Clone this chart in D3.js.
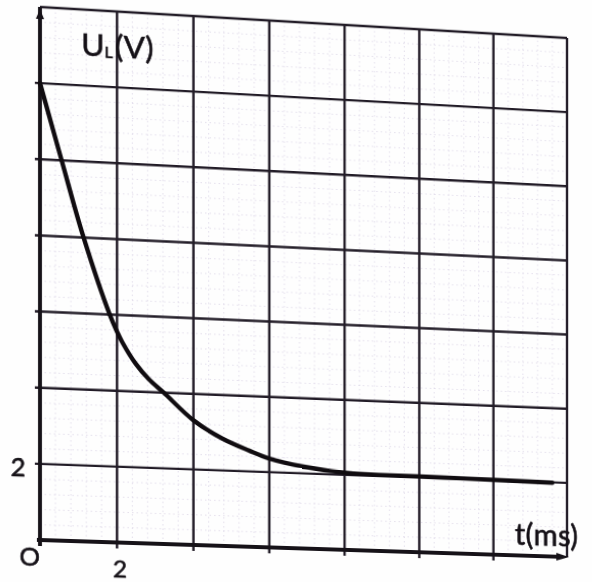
<!DOCTYPE html>
<html>
<head>
<meta charset="utf-8">
<script src="https://cdn.jsdelivr.net/npm/d3@7"></script>
<style>
html,body{margin:0;padding:0;background:#fff;overflow:hidden;width:592px;height:582px}
#wrap{position:absolute;left:0;top:0;width:592px;height:582px;transform-origin:0 0}
</style>
</head>
<body>
<div id="wrap"></div>
<script>
// ---- data ----
const tValues = [0, 0.56, 1.13, 1.81, 2.0, 2.13, 2.49, 2.83, 3.22, 4.0, 4.75, 5.47, 6.0, 6.9, 8.0, 10.0, 12.0, 13.6];
const uValues = [12, 10, 8, 6, 5.56, 5.3, 4.73, 4.34, 4.0, 3.3, 2.85, 2.55, 2.36, 2.18, 2.06, 2.03, 2.01, 1.99];
const xMajorTicks = [0, 2, 4, 6, 8, 10, 12, 14];
const yMajorTicks = [0, 2, 4, 6, 8, 10, 12, 14];
const xTickLabels = [{v: 2, text: "2"}];
const yTickLabels = [{v: 2, text: "2"}];
const originLabel = "O";
const xTitle = "t(ms)";
const yTitleMain = "U", yTitleSub = "L", yTitleUnit = "(V)";

// ---- layout ----
const Wd = 592, Ht = 582;
const L = 40, T = 7, W = 527, H = 533;
const quad = [[40, 7], [567, 38], [567, 557], [40, 540]]; // photo perspective

const x = d3.scaleLinear().domain([0, 14]).range([L, L + W]);
const y = d3.scaleLinear().domain([0, 14]).range([T + H, T]);

const svg = d3.select("#wrap").append("svg")
  .attr("width", Wd).attr("height", Ht)
  .style("overflow", "visible");

svg.append("rect").attr("x", -50).attr("y", -50).attr("width", Wd + 100).attr("height", Ht + 100).attr("fill", "#fefefe");

// minor grid
const minor = d3.range(0, 14.001, 0.4).filter(v => Math.abs(v / 2 - Math.round(v / 2)) > 1e-6);
const gMinor = svg.append("g").attr("stroke", "#cdc4dc").attr("stroke-width", 0.9)
  .attr("stroke-dasharray", "1.5,3").attr("opacity", 0.6);
gMinor.selectAll("line.mx").data(minor).join("line")
  .attr("x1", d => x(d)).attr("x2", d => x(d)).attr("y1", y(14)).attr("y2", y(0));
gMinor.selectAll("line.my").data(minor).join("line")
  .attr("y1", d => y(d)).attr("y2", d => y(d)).attr("x1", x(0)).attr("x2", x(14));

// major grid
const gMajor = svg.append("g").attr("stroke", "#221c27").attr("stroke-width", 2.4);
gMajor.selectAll("line.vx").data(xMajorTicks.filter(d => d > 0)).join("line")
  .attr("x1", d => x(d)).attr("x2", d => x(d))
  .attr("y1", y(14)).attr("y2", d => d < 14 ? y(0) + 6 : y(0));
gMajor.selectAll("line.hy").data(yMajorTicks.filter(d => d > 0)).join("line")
  .attr("y1", d => y(d)).attr("y2", d => y(d))
  .attr("x1", d => d < 14 ? x(0) - 5 : x(0)).attr("x2", x(14));

// axes
const axisCol = "#161218";
svg.append("line").attr("x1", x(0)).attr("x2", x(0)).attr("y1", y(0) + 6).attr("y2", y(14))
  .attr("stroke", axisCol).attr("stroke-width", 3.8);
svg.append("line").attr("x1", x(0) - 3).attr("x2", x(14) - 6).attr("y1", y(0)).attr("y2", y(0))
  .attr("stroke", axisCol).attr("stroke-width", 4);
// arrowheads
svg.append("path")
  .attr("d", `M${x(14) + 2},${y(0)} L${x(14) - 11},${y(0) - 4} L${x(14) - 11},${y(0) + 4}Z`)
  .attr("fill", axisCol);
svg.append("path")
  .attr("d", `M${x(0)},${y(14) + 2} L${x(0) - 4},${y(14) + 12} L${x(0) + 4},${y(14) + 12}Z`)
  .attr("fill", axisCol);

// curve
const pts = tValues.map((t, i) => [t, uValues[i]]);
svg.append("path").datum(pts)
  .attr("d", d3.line().x(d => x(d[0])).y(d => y(d[1])).curve(d3.curveCatmullRom.alpha(0.5)))
  .attr("fill", "none").attr("stroke", "#100c10").attr("stroke-width", 4.4)
  .attr("stroke-linecap", "round").attr("stroke-linejoin", "round");

// labels
const font = "Lato, 'Open Sans', sans-serif";
const txtCol = "#141016";
function styleText(s, size) {
  return s.attr("font-family", font).attr("font-size", size).attr("fill", txtCol)
    .attr("stroke", txtCol).attr("stroke-width", 0.6);
}
styleText(svg.selectAll("text.xl").data(xTickLabels).join("text")
  .attr("x", d => x(d.v) + 3).attr("y", y(0) + 35)
  .attr("text-anchor", "middle"), 24)
  .text(d => d.text);
styleText(svg.selectAll("text.yl").data(yTickLabels).join("text")
  .attr("x", x(0) - 14).attr("y", d => y(d.v) + 13)
  .attr("text-anchor", "end"), 25)
  .text(d => d.text);
styleText(svg.append("text").attr("x", x(0) - 10).attr("y", y(0) + 26)
  .attr("text-anchor", "middle"), 25)
  .text(originLabel);

styleText(svg.append("text").attr("x", x(12.58)).attr("y", y(0.28))
  .attr("letter-spacing", 0.3), 30)
  .text(xTitle);

const yt = styleText(svg.append("text").attr("x", x(1.07)).attr("y", y(12.8)), 31);
yt.append("tspan").text(yTitleMain);
yt.append("tspan").attr("font-size", 16).attr("dy", 1).text(yTitleSub);
yt.append("tspan").attr("dy", -1).attr("dx", 2).text(yTitleUnit);

// ---- perspective of the photographed sheet (homography) ----
function perspective(L, T, W, H, q) {
  const [x0, y0] = q[0], [x1, y1] = q[1], [x2, y2] = q[2], [x3, y3] = q[3];
  const dx1 = x1 - x2, dx2 = x3 - x2, dx3 = x0 - x1 + x2 - x3;
  const dy1 = y1 - y2, dy2 = y3 - y2, dy3 = y0 - y1 + y2 - y3;
  const den = dx1 * dy2 - dx2 * dy1;
  const g = (dx3 * dy2 - dx2 * dy3) / den;
  const h = (dx1 * dy3 - dx3 * dy1) / den;
  const a = x1 - x0 + g * x1, b = x3 - x0 + h * x3, c = x0;
  const d = y1 - y0 + g * y1, e = y3 - y0 + h * y3, f = y0;
  const A = [[a, b, c], [d, e, f], [g, h, 1]];
  const S = [[1 / W, 0, -L / W], [0, 1 / H, -T / H], [0, 0, 1]];
  const M = A.map(r => [0, 1, 2].map(j => r[0] * S[0][j] + r[1] * S[1][j] + r[2] * S[2][j]));
  return `matrix3d(${M[0][0]},${M[1][0]},0,${M[2][0]},${M[0][1]},${M[1][1]},0,${M[2][1]},0,0,1,0,${M[0][2]},${M[1][2]},0,${M[2][2]})`;
}
d3.select("#wrap").style("transform", perspective(L, T, W, H, quad));
</script>
</body>
</html>
